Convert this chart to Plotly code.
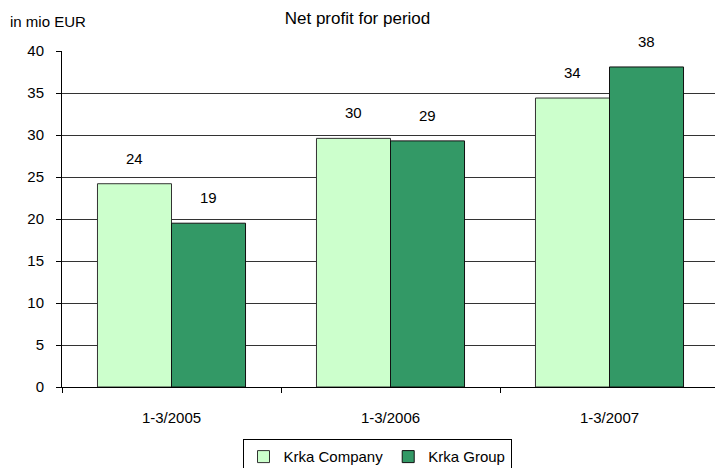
import plotly.graph_objects as go

categories = ["1-3/2005", "1-3/2006", "1-3/2007"]
company_values = [24.2, 29.6, 34.4]
group_values = [19.5, 29.3, 38.1]
company_labels = ["24", "30", "34"]
group_labels = ["19", "29", "38"]
series_names = ["Krka Company", "Krka Group"]
y_ticks = [0, 5, 10, 15, 20, 25, 30, 35, 40]

FONT = "Liberation Sans, Arial"

fig = go.Figure()
fig.add_trace(go.Bar(x=categories, y=company_values, name=series_names[0],
                     marker=dict(color="#CCFFCC", line=dict(color="#333333", width=1))))
fig.add_trace(go.Bar(x=categories, y=group_values, name=series_names[1],
                     marker=dict(color="#339966", line=dict(color="#111111", width=1))))

annotations = []
for i, c in enumerate(categories):
    for vals, labs, shift in ((company_values, company_labels, -37), (group_values, group_labels, 37)):
        annotations.append(dict(x=c, y=vals[i], text=labs[i], xref="x", yref="y",
                                xshift=shift, yshift=15, yanchor="bottom", showarrow=False,
                                font=dict(family=FONT, size=15, color="#000000")))
annotations.append(dict(xref="paper", yref="paper", x=-54 / 653, y=1 + (51 - 22) / 335.7,
                        text="in mio EUR", showarrow=False, xanchor="left", yanchor="middle",
                        font=dict(family=FONT, size=15, color="#000000")))

fig.update_layout(
    annotations=annotations,
    width=715, height=468,
    margin=dict(l=62, r=0, t=51, b=81, autoexpand=False),
    paper_bgcolor="white", plot_bgcolor="white",
    barmode="group", bargap=0.324, bargroupgap=0,
    title=dict(text="Net profit for period", x=0.5, xref="container", y=1 - 18 / 468, yanchor="middle",
               font=dict(family=FONT, size=17, color="#000000")),
    font=dict(family=FONT, size=15, color="#000000"),
    showlegend=True,
    legend=dict(orientation="h", x=(377 - 62) / 653, xanchor="center", y=-(439 - 386.7) / 335.7,
                yanchor="top", bordercolor="#000000", borderwidth=1, tracegroupgap=0,
                font=dict(family=FONT, size=15, color="#000000"), itemwidth=30, traceorder="normal"),
)
fig.update_xaxes(range=[-0.5, 2.5 - 4 / 219], showline=True, linecolor="#000000", linewidth=1,
                 ticks="outside", tickson="boundaries", ticklen=5, tickcolor="#000000",
                 ticklabelstandoff=17, showgrid=False, automargin=False,
                 tickfont=dict(family=FONT, size=15, color="#000000"))
fig.update_yaxes(range=[0, 40], tickvals=y_ticks, showline=True, linecolor="#000000", linewidth=1,
                 ticks="outside", ticklen=5, tickcolor="#000000", ticklabelstandoff=9,
                 showgrid=True, gridcolor="#333333", gridwidth=1, zeroline=False, automargin=False,
                 tickfont=dict(family=FONT, size=15, color="#000000"))

fig.write_html("out.html", config={"displayModeBar": False},
               post_script="document.body.style.margin='0px';document.body.style.overflow='hidden';")
